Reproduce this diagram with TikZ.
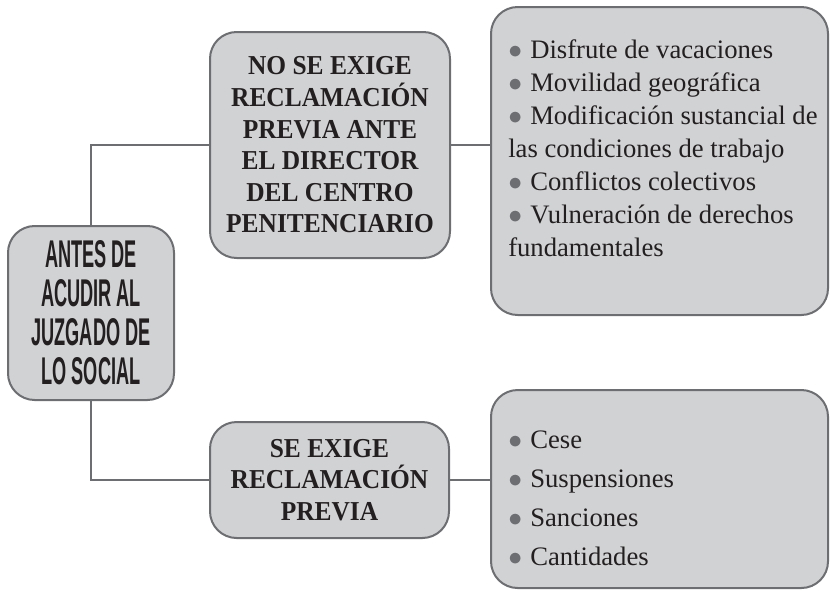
\documentclass[tikz,border=0pt]{standalone}
\usepackage{fontspec}
\setmainfont{Liberation Serif}
\newfontfamily\condsans[FakeStretch=0.47]{Liberation Sans}
\newfontfamily\capserif[FakeStretch=0.93]{Liberation Serif}
\usepackage{tikz}

\definecolor{boxfill}{HTML}{D1D2D4}
\definecolor{boxline}{HTML}{6D6E71}
\definecolor{ink}{HTML}{231F20}

\newcommand{\bul}{\makebox[16.5pt][l]{\textcolor{boxline}{$\bullet$}}}

\tikzset{
    lst/.style={align=left,inner sep=0pt,text=ink,anchor=north west}
}

\begin{document}
\begin{tikzpicture}[x=0.75pt,y=-0.75pt]
            \useasboundingbox (0,0) rectangle (830,590);

            \begin{scope}[every node/.style={draw=boxline,line width=1.5pt,fill=boxfill,rounded corners=20pt,inner sep=0pt,text=ink,align=center}]
                \node[minimum width=124.5pt,minimum height=130.5pt,
                      font=\condsans\bfseries\fontsize{29}{29.25}\selectfont] (ant) at (91,313)
                      {ANTES DE\\ACUDIR AL\\JUZGADO DE\\LO SOCIAL};
                \node[minimum width=180pt,minimum height=169.5pt,
                      font=\capserif\bfseries\fontsize{20.5}{23.7}\selectfont] (nose) at (330,145)
                      {NO SE EXIGE\\RECLAMACIÓN\\PREVIA ANTE\\EL DIRECTOR\\DEL CENTRO\\PENITENCIARIO};
                \node[minimum width=179.25pt,minimum height=87pt,
                      font=\capserif\bfseries\fontsize{20.5}{23.7}\selectfont] (se) at (329.5,480)
                      {SE EXIGE\\RECLAMACIÓN\\PREVIA};
                \node[minimum width=252.75pt,minimum height=231pt] (lsta) at (659.5,161) {};
                \node[minimum width=252.75pt,minimum height=148.5pt] (lstb) at (659.5,489) {};
            \end{scope}

            % lists inside the right boxes
            \node[lst,font=\fontsize{20}{24.75}\selectfont] (lstatxt) at (508,39)
                {\bul Disfrute de vacaciones\\
                 \bul Movilidad geográfica\\
                 \bul Modificación sustancial de\\
                 las condiciones de trabajo\\
                 \bul Conflictos colectivos\\
                 \bul Vulneración de derechos\\
                 fundamentales};
            \node[lst,font=\fontsize{20}{29.25}\selectfont] (lstbtxt) at (508,431)
                {\bul Cese\\
                 \bul Suspensiones\\
                 \bul Sanciones\\
                 \bul Cantidades};

            \begin{scope}[draw=boxline,line width=1.5pt]
                \draw (ant.north) |- (nose.west);
                \draw (ant.south) |- (se.west);
                \draw (nose.east) -- (nose.east -| lsta.west);
                \draw (se.east) -- (se.east -| lstb.west);
            \end{scope}
\end{tikzpicture}
\end{document}
